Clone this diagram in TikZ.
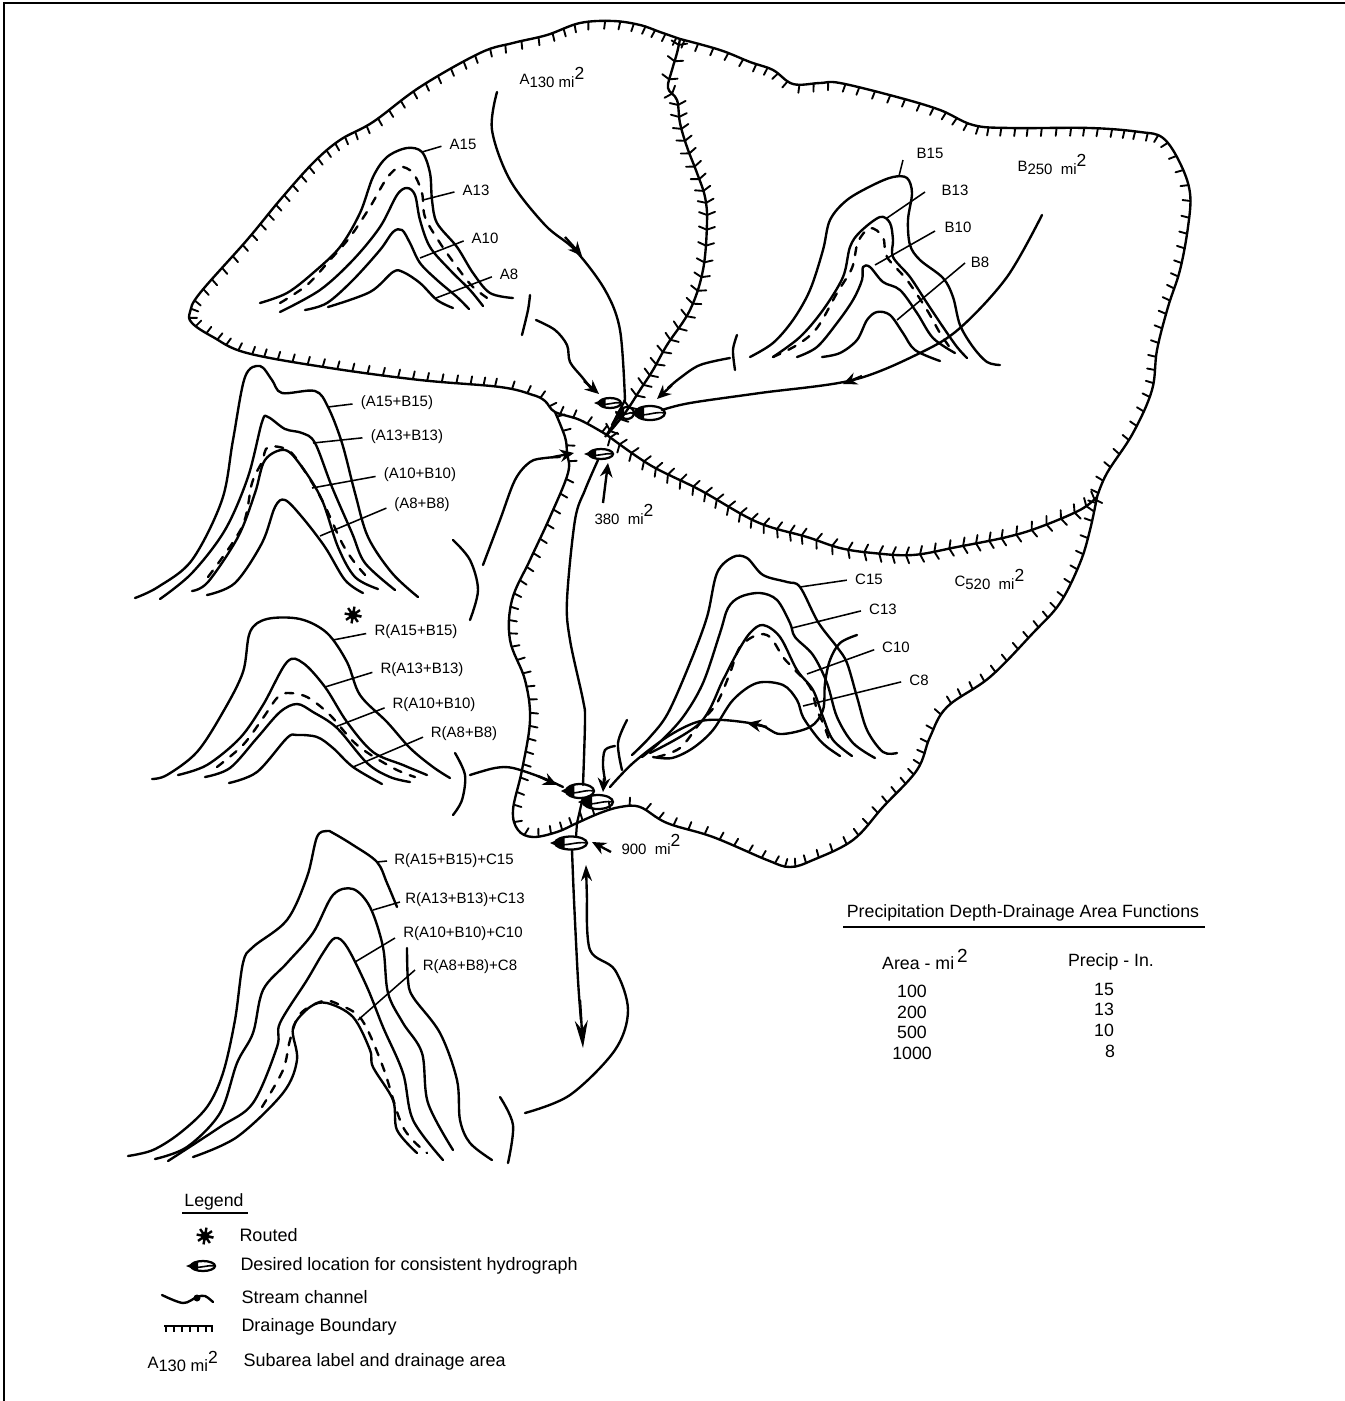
\documentclass[tikz,border=0pt]{standalone}
\usepackage{fontspec}
\setmainfont{Liberation Sans}
\usetikzlibrary{arrows.meta}
\tikzset{
  curve/.style={line width=.95pt,line cap=round,line join=round},
  dash curve/.style={curve,dash pattern=on 3.2pt off 3.6pt},
  lead/.style={line width=.62pt,shorten >=3.2pt},
  leadfree/.style={line width=.62pt},
  stream/.style={line width=.95pt,line cap=round,line join=round},
  barbtip/.style={line width=.95pt,-{Stealth[length=5.6pt,width=5pt]}},
  lab/.style={font=\fontsize{6}{6.6}\selectfont,inner sep=0pt},
  leg/.style={font=\fontsize{7.2}{8}\selectfont,inner sep=0pt,anchor=west},
  tbl/.style={font=\fontsize{7.1}{8}\selectfont,inner sep=0pt},
  bound/.style={line width=.95pt,line join=round},
  tickmark/.style={line width=.75pt,line cap=round}
}
\newcount\tkn
% #1 = 1 one-sided (right of travel), 2 = chevron on both sides; #2 = x/y list, ends doubled
\newcommand\tickpath[2]{%
  \global\tkn=0
  \foreach \tkxd/\tkyd in {#2}{%
    \ifnum\tkn>2
      \pgfmathsetmacro\tkL{veclen(\tkxc-\tkxb,\tkyc-\tkyb)}%
      \pgfmathtruncatemacro\tkc{max(1,round(\tkL/14))}%
      \foreach \tkk in {1,...,\tkc}{%
        \pgfmathsetmacro\t{(\tkk-0.5)/\tkc}%
        \pgfmathsetmacro\px{0.5*(2*\tkxb+(\tkxc-\tkxa)*\t+(2*\tkxa-5*\tkxb+4*\tkxc-\tkxd)*\t*\t+(3*\tkxb-\tkxa-3*\tkxc+\tkxd)*\t*\t*\t)}%
        \pgfmathsetmacro\py{0.5*(2*\tkyb+(\tkyc-\tkya)*\t+(2*\tkya-5*\tkyb+4*\tkyc-\tkyd)*\t*\t+(3*\tkyb-\tkya-3*\tkyc+\tkyd)*\t*\t*\t)}%
        \pgfmathsetmacro\dx{(\tkxc-\tkxa)+2*(2*\tkxa-5*\tkxb+4*\tkxc-\tkxd)*\t+3*(3*\tkxb-\tkxa-3*\tkxc+\tkxd)*\t*\t}%
        \pgfmathsetmacro\dy{(\tkyc-\tkya)+2*(2*\tkya-5*\tkyb+4*\tkyc-\tkyd)*\t+3*(3*\tkyb-\tkya-3*\tkyc+\tkyd)*\t*\t}%
        \pgfmathsetmacro\dl{max(0.01,veclen(\dx,\dy))}%
        \pgfmathsetmacro\ux{\dx/\dl}\pgfmathsetmacro\uy{\dy/\dl}%
        \ifnum#1=1
          \draw[tickmark] (\px,\py) -- ++({-8*\uy-1*\ux},{8*\ux-1*\uy});
        \else
          \draw[tickmark] ({\px-8*\uy-3*\ux},{\py+8*\ux-3*\uy}) -- (\px,\py) -- ({\px+8*\uy-3*\ux},{\py-8*\ux-3*\uy});
        \fi
      }%
    \fi
    \global\let\tkxa\tkxb \global\let\tkya\tkyb
    \global\let\tkxb\tkxc \global\let\tkyb\tkyc
    \global\let\tkxc\tkxd \global\let\tkyc\tkyd
    \global\advance\tkn by 1
  }}
\newcommand\crv[2][curve]{\draw[#1] plot[smooth,tension=.55] coordinates {#2};}
\newcommand\barb[2]{\draw[barbtip] #1 -- #2;}
\newcommand\hydro[4]{%
  \fill (#1-#3-5,#2) -- (#1-#3*0.4,#2-#4) -- (#1-#3*0.4,#2+#4) -- cycle;
  \draw[line width=.9pt] (#1,#2) ellipse [x radius=#3,y radius=#4];
  \draw[line width=.65pt] (#1-#3,#2+1) .. controls (#1-#3*0.3,#2+#4*0.6) and (#1+#3*0.3,#2-#4*0.3) .. (#1+#3,#2);}
\newcommand\routedmark[2]{%
  \fill (#1,#2) circle [radius=4.5];
  \foreach \a in {10,55,...,370} \draw[line width=.95pt] (#1,#2) -- ++(\a:8.5);}
\newcommand\sqtwo{\smash{\raisebox{3pt}{\fontsize{7}{7}\selectfont 2}}}
\newcommand\areatxt[3][]{#2\raisebox{-1.3pt}{#3 #1mi\sqtwo}}
\begin{document}
\begin{tikzpicture}[x=.4pt,y=-.4pt]
\useasboundingbox (0,0) rectangle (1345,1401);
% frame
\draw[line width=.8pt] (4,1401) -- (4,3) -- (1345,3);
% drainage boundaries
\draw[bound] plot[smooth,tension=.6] coordinates {(607,435)(580,420)(555,412)(545,401)(533,395)(500,387)(420,380)(330,368)(247,353)(213,337)(192,323)(190,312)(200,293)(247,240)(280,200)(313,163)(340,140)(373,122)(420,87)(480,53)(513,43)(547,35)(580,23)(613,21)(640,25)(660,32)(680,39)};
\tickpath{1}{607/435,607/435,580/420,555/412,545/401,533/395,500/387,420/380,330/368,247/353,213/337,192/323,190/312,200/293,247/240,280/200,313/163,340/140,373/122,420/87,480/53,513/43,547/35,580/23,613/21,640/25,660/32,680/39,680/39}
\draw[bound] plot[smooth,tension=.6] coordinates {(680,39)(677,53)(672,70)(668,88)(677,100)(680,123)(687,147)(697,173)(705,197)(707,223)(703,270)(690,310)(667,345)(653,370)(640,390)(625,413)(607,435)};
\tickpath{2}{680/39,680/39,677/53,672/70,668/88,677/100,680/123,687/147,697/173,705/197,707/223,703/270,690/310,667/345,653/370,640/390,625/413,607/435,607/435}
\draw[bound] plot[smooth,tension=.6] coordinates {(680,39)(720,50)(750,62)(773,70)(793,84)(820,83)(840,83)(897,97)(940,110)(973,125)(1010,128)(1090,128)(1140,132)(1163,138)(1180,163)(1190,193)(1188,227)(1180,270)(1168,307)(1157,350)(1152,390)(1133,433)(1107,473)(1097,497)};
\tickpath{1}{680/39,680/39,720/50,750/62,773/70,793/84,820/83,840/83,897/97,940/110,973/125,1010/128,1090/128,1140/132,1163/138,1180/163,1190/193,1188/227,1180/270,1168/307,1157/350,1152/390,1133/433,1107/473,1097/497,1097/497}
\draw[bound] plot[smooth,tension=.6] coordinates {(1097,497)(1080,510)(1040,527)(1007,537)(957,547)(913,555)(873,553)(840,548)(807,537)(757,522)(700,490)(650,465)(607,435)};
\tickpath{2}{1097/497,1097/497,1080/510,1040/527,1007/537,957/547,913/555,873/553,840/548,807/537,757/522,700/490,650/465,607/435,607/435}
\draw[bound] plot[smooth,tension=.6] coordinates {(1097,497)(1090,530)(1080,563)(1060,603)(1033,633)(990,677)(947,707)(930,737)(917,770)(883,807)(853,840)(813,860)(790,867)(767,860)(713,837)(667,823)(640,807)(620,807)(600,813)(577,823)(557,832)(533,837)(518,830)(513,810)(522,770)(530,720)(525,680)(510,640)(512,600)(530,560)(550,517)(568,473)(567,453)(565,437)(555,412)};
\tickpath{1}{1097/497,1097/497,1090/530,1080/563,1060/603,1033/633,990/677,947/707,930/737,917/770,883/807,853/840,813/860,790/867,767/860,713/837,667/823,640/807,620/807,600/813,577/823,557/832,533/837,518/830,513/810,522/770,530/720,525/680,510/640,512/600,530/560,550/517,568/473,567/453,565/437,555/412,555/412}
% group A
\crv{(260,303)(287,293)(313,273)(340,247)(360,213)(373,177)(387,157)(407,148)(422,152)(430,173)(432,200)(437,223)(457,247)(473,273)(490,293)(513,298)}
\crv[dash curve]{(280,303)(307,285)(330,260)(350,237)(370,207)(387,178)(400,167)(413,173)(422,193)(425,217)(440,243)(457,267)(473,287)(493,302)}
\crv{(280,312)(320,290)(353,260)(380,227)(397,195)(407,188)(415,195)(420,220)(430,247)(450,270)(470,290)(483,306)}
\crv{(305,310)(327,303)(353,280)(380,250)(393,232)(402,230)(410,243)(420,263)(437,280)(457,297)(469,309)}
\crv{(328,307)(370,292)(393,272)(403,272)(420,283)(437,300)(453,308)}
\node[lab] (a15) at (463,144) {A15};
\node[lab] (a13) at (476,190) {A13};
\node[lab] (a10) at (485,238) {A10};
\node[lab] (a8) at (509,274) {A8};
\draw[lead] (422,152) -- (a15.west);
\draw[lead] (423,200) -- (a13.west);
\draw[lead] (420,258) -- (a10.west);
\draw[lead] (436,298) -- (a8.west);
% group B
\crv{(750,357)(773,343)(793,320)(810,290)(823,250)(830,220)(847,200)(873,185)(893,177)(907,178)(912,193)(908,220)(910,245)(920,260)(943,278)(953,297)(960,325)(973,347)(987,362)(1000,365)}
\crv[dash curve]{(773,357)(797,345)(817,328)(837,293)(852,268)(858,242)(870,228)(883,237)(887,257)(907,280)(927,310)(940,333)(953,352)}
\crv{(773,357)(800,337)(823,310)(843,277)(850,247)(860,232)(880,217)(890,223)(893,240)(893,257)(910,277)(927,303)(943,327)(957,347)(967,358)}
\crv{(797,357)(817,347)(837,323)(853,300)(862,280)(863,267)(870,267)(883,282)(900,290)(917,313)(933,338)(955,353)}
\crv{(822,357)(840,353)(857,340)(867,320)(877,312)(890,315)(903,333)(915,350)(940,361)}
\node[lab] (b15) at (930,153) {B15};
\node[lab] (b13) at (955,190) {B13};
\node[lab] (b10) at (958,227) {B10};
\node[lab] (b8) at (980,262) {B8};
\draw[leadfree] (899,176) -- (903,160);
\draw[leadfree] (887,218) -- (925,192);
\draw[leadfree] (875,265) -- (935,231);
\draw[leadfree] (897,320) -- (965,263);
% group A+B
\crv{(135,598)(158,587)(192,560)(222,500)(233,440)(245,377)(260,366)(272,380)(282,393)(315,391)(328,407)(342,443)(355,493)(368,537)(392,573)(418,597)}
\crv{(160,599)(192,573)(225,530)(248,477)(262,422)(268,417)(285,429)(302,433)(315,443)(332,487)(352,533)(365,563)(395,590)}
\crv[dash curve]{(208,577)(242,527)(252,483)(262,462)(268,447)(288,450)(302,467)(322,500)(342,543)(355,563)(367,577)}
\crv{(192,591)(208,582)(238,537)(255,493)(265,460)(285,450)(302,467)(322,500)(338,547)(355,577)(378,589)}
\crv{(207,595)(235,583)(262,543)(275,507)(285,500)(302,517)(325,547)(345,580)(363,593)}
\node[lab] (s15) at (397,403) {(A15+B15)};
\node[lab] (s13) at (407,437) {(A13+B13)};
\node[lab] (s10) at (420,475) {(A10+B10)};
\node[lab] (s8) at (422,505) {(A8+B8)};
\draw[lead] (328,407) -- (s15.west);
\draw[lead] (313,443) -- (s13.west);
\draw[lead] (312,488) -- (s10.west);
\draw[lead] (320,536) -- (s8.west);
\routedmark{353}{615}
% routed group
\crv{(152,779)(167,775)(197,752)(223,712)(243,672)(250,632)(267,619)(300,619)(327,633)(347,662)(360,695)(387,722)(410,748)(433,767)(450,778)}
\crv{(178,775)(207,765)(240,738)(263,705)(287,662)(303,663)(325,687)(347,722)(373,752)(403,765)(427,775)}
\crv[dash curve]{(217,767)(243,745)(263,718)(277,698)(287,693)(307,697)(330,715)(357,745)(393,768)(415,777)}
\crv{(205,777)(230,768)(257,738)(280,712)(297,704)(313,712)(337,728)(367,763)(390,777)(410,782)}
\crv{(229,783)(257,772)(287,738)(297,735)(317,737)(333,748)(353,767)(382,784)}
\node[lab] (r15) at (416,632) {R(A15+B15)};
\node[lab] (r13) at (422,670) {R(A13+B13)};
\node[lab] (r10) at (434,705) {R(A10+B10)};
\node[lab] (r8) at (464,734) {R(A8+B8)};
\draw[lead] (333,640) -- (r15.west);
\draw[lead] (325,687) -- (r13.west);
\draw[lead] (335,727) -- (r10.west);
\draw[lead] (353,767) -- (r8.west);
% group C
\crv{(632,755)(650,737)(668,713)(690,663)(707,617)(717,573)(733,557)(747,558)(763,575)(787,582)(800,587)(818,622)(837,647)(847,663)(857,697)(867,730)(883,752)(897,753)}
\crv{(642,757)(660,742)(683,717)(703,683)(720,633)(728,608)(740,597)(760,593)(777,600)(790,623)(795,637)(813,655)(827,683)(837,717)(853,743)(875,758)}
\crv{(650,753)(700,723)(723,680)(737,653)(750,633)(763,625)(780,637)(797,670)(813,690)(823,717)(833,740)(852,756)}
\crv[dash curve]{(657,757)(680,748)(700,723)(717,703)(730,673)(740,647)(757,635)(770,637)(783,657)(793,668)(810,687)(817,710)(823,723)(830,742)}
\crv{(653,757)(672,758)(693,748)(713,730)(733,700)(757,683)(783,685)(797,700)(803,717)(817,737)(827,747)(840,756)}
\node[lab] (c15) at (869,579) {C15};
\node[lab] (c13) at (883,609) {C13};
\node[lab] (c10) at (896,647) {C10};
\node[lab] (c8) at (919,680) {C8};
\draw[lead] (800,587) -- (c15.west);
\draw[lead] (792,628) -- (c13.west);
\draw[lead] (807,674) -- (c10.west);
\draw[lead] (803,706) -- (c8.west);
% bottom group
\crv{(128,1156)(153,1150)(180,1133)(207,1107)(223,1073)(235,1020)(243,963)(253,947)(287,920)(307,877)(317,837)(327,831)(333,833)(353,845)(377,862)(387,883)(397,907)}
\crv{(407,948)(408,980)(413,997)(440,1033)(457,1080)(460,1120)(470,1143)(492,1160)}
\crv{(155,1159)(187,1147)(220,1113)(237,1063)(253,1033)(263,990)(287,963)(313,933)(333,895)(353,889)(370,907)(383,947)(388,993)(403,1023)(422,1053)(428,1103)(453,1150)}
\crv{(168,1161)(220,1127)(253,1103)(277,1047)(280,1023)(307,980)(323,953)(335,938)(347,947)(367,987)(383,1027)(403,1073)(413,1120)(443,1160)}
\crv[dash curve]{(262,1107)(283,1070)(290,1040)(300,1014)(323,1001)(340,1005)(362,1020)(383,1067)(403,1127)(427,1153)}
\crv{(193,1157)(237,1137)(283,1093)(297,1060)(293,1028)(310,1007)(327,1003)(353,1017)(370,1050)(373,1067)(393,1100)(397,1130)(417,1153)}
\node[lab] (l15) at (454,861) {R(A15+B15)+C15};
\node[lab] (l13) at (465,900) {R(A13+B13)+C13};
\node[lab] (l10) at (463,934) {R(A10+B10)+C10};
\node[lab] (l8) at (470,967) {R(A8+B8)+C8};
\draw[leadfree] (377,862) -- (387,861);
\draw[leadfree] (373,910) -- (400,902);
\draw[leadfree] (355,962) -- (395,938);
\draw[leadfree] (358,1020) -- (415,970);
% streams upper
\crv[stream]{(497,92)(492,130)(510,180)(545,225)(575,250)(605,290)(620,330)(625,400)}
\barb{(565,237)}{(582,256)}
\crv[stream]{(530,295)(528,310)(522,335)}
\crv[stream]{(536,320)(555,330)(567,345)(570,362)(582,377)(590,387)}
\barb{(584,381)}{(599,394)}
\crv[stream]{(737,335)(733,350)(735,370)}
\crv[stream]{(730,358)(700,365)(680,378)(668,388)}
\barb{(672,385)}{(657,399)}
\crv[stream]{(1042,215)(1007,277)(960,328)(920,353)(853,380)(760,393)(690,403)(662,410)}
\barb{(862,376)}{(843,384)}
\crv[stream]{(453,540)(470,560)(478,590)(470,620)}
\crv[stream]{(483,565)(500,520)(515,480)(530,462)(545,458)(560,457)}
\barb{(553,457)}{(574,453)}
\barb{(603,503)}{(608,463)}
\draw[stream] (612,425) -- (625,400);
\crv[stream]{(598,460)(585,490)(575,520)(567,600)(570,640)(583,700)(585,720)(583,785)}
% hydrograph markers upper
\hydro{610}{403}{11}{5}
\hydro{627}{413}{7}{6}
\hydro{650}{413}{15}{7}
\hydro{601}{454}{12}{5}
\draw[line width=.9pt] (605,437) -- (622,412);
% streams lower
\crv[stream]{(455,753)(465,775)(462,800)(453,815)}
\crv[stream]{(470,775)(495,768)(513,768)(543,778)(563,787)}
\barb{(538,776)}{(557,785)}
\crv[stream]{(857,635)(840,643)(830,660)(825,683)(823,710)(810,727)(780,734)(760,725)(723,720)(697,722)(667,737)(633,763)(610,787)}
\barb{(767,727)}{(747,723)}
\crv[stream]{(627,720)(618,743)(622,770)}
\crv[stream]{(615,746)(605,750)(603,765)(605,780)}
\barb{(604,778)}{(603,792)}
\hydro{580}{791}{14}{7}
\hydro{598}{802}{15}{7}
\hydro{571}{843}{16}{6.5}
\draw[line width=.9pt] (583,797) -- (577,823) -- (576,837);
\crv[stream]{(572,850)(574,900)(578,980)(581,1020)}
\draw[line width=.95pt,-{Stealth[length=11pt,width=5.2pt]}] (580,1000) -- (583,1048);
\crv[stream]{(525,1113)(570,1095)(615,1050)(628,1010)(615,970)(590,950)(587,900)}
\draw[line width=.95pt,-{Stealth[length=6.4pt,width=4.4pt]}] (587,900) -- (586,865);
\crv[stream]{(500,1097)(513,1125)(508,1163)}
\barb{(611,852)}{(592,842)}
% area labels
\node[lab,anchor=base west] (aa) at (519,84) {\areatxt{A}{130}};
\node[lab,anchor=base west] (ab) at (1017,171) {\areatxt[\ ]{B}{250}};
\node[lab,anchor=base west] (ac) at (954,586) {\areatxt[\ ]{C}{520}};
\node[lab,anchor=base west] (a380) at (594,524) {380\ \ mi\sqtwo};
\node[lab,anchor=base west] (a900) at (621,854) {900\ \ mi\sqtwo};
% table
\node[tbl] (tt) at (1023,913) {Precipitation Depth-Drainage Area Functions};
\draw[line width=.72pt] (843,927) -- (1205,927);
\node[tbl] (t1) at (925,963) {Area - mi\,\smash{\raisebox{2.8pt}{\fontsize{7.6}{7.6}\selectfont 2}}};
\node[tbl] (t2) at (1111,962) {Precip - In.};
\node[tbl] (v1) at (912,991) {100};
\node[tbl] (v2) at (912,1012) {200};
\node[tbl] (v3) at (912,1032) {500};
\node[tbl] (v4) at (912,1053) {1000};
\node[tbl] (p1) at (1104,989) {15};
\node[tbl] (p2) at (1104,1009) {13};
\node[tbl] (p3) at (1104,1030) {10};
\node[tbl] (p4) at (1110,1051) {8};
% legend
\node[tbl] (lg) at (214,1202) {Legend};
\draw[line width=.72pt] (182,1213) -- (248,1213);
\routedmark{205}{1236}
\node[leg] (lg1) at (239,1235) {Routed};
\hydro{203}{1266}{12}{5}
\node[leg] (lg2) at (240,1266) {Desired location for consistent hydrograph};
\crv[stream]{(162,1295)(183,1303)(197,1297)(205,1296)(213,1302)}
\fill (197,1298) circle [radius=3.5];
\node[leg] (lg3) at (241,1297) {Stream channel};
\draw[line width=.9pt] (164,1326) -- (213,1326);
\foreach \xx in {166,174,182,190,198,206,212} \draw[line width=.72pt] (\xx,1326) -- (\xx,1332);
\node[leg] (lg4) at (241,1327) {Drainage Boundary};
\node[lab,anchor=base west] (lg5a) at (147,1368) {\fontsize{6.6}{7}\selectfont\areatxt{A}{130}};
\node[leg] (lg5) at (243,1362) {Subarea label and drainage area};
\end{tikzpicture}
\end{document}
